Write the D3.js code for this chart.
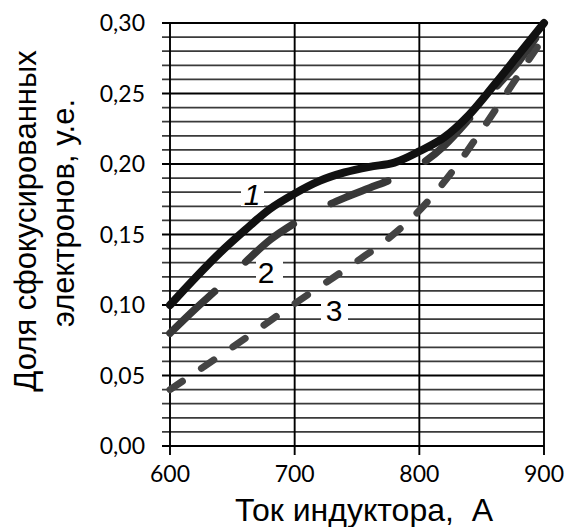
<!DOCTYPE html>
<html><head><meta charset="utf-8">
<script src="https://cdn.jsdelivr.net/npm/d3@7"></script>
<style>html,body{margin:0;padding:0;background:#fff;}svg{display:block;}</style>
</head><body>
<script>
// ---- data ----
const xTicks = [600, 700, 800, 900];
const yTicks = [0, 0.05, 0.10, 0.15, 0.20, 0.25, 0.30];
const yTickLabels = ["0,00", "0,05", "0,10", "0,15", "0,20", "0,25", "0,30"];
const yMinor = [0.01,0.02,0.03,0.04,0.06,0.07,0.08,0.09,0.11,0.12,0.13,0.14,0.16,0.17,0.18,0.19,0.21,0.22,0.23,0.24,0.26,0.27,0.28,0.29];
const curve1X = [600, 620, 640, 660, 680, 700, 720, 740, 760, 780, 800, 820, 840, 860, 880, 900];
const curve1Y = [0.100, 0.119, 0.137, 0.153, 0.168, 0.179, 0.188, 0.194, 0.198, 0.201, 0.209, 0.219, 0.235, 0.256, 0.278, 0.300];
const curve2X = [600, 620, 640, 660, 680, 700, 720, 740, 760, 780, 800, 820, 840, 860, 880, 900];
const curve2Y = [0.080, 0.097, 0.113, 0.130, 0.146, 0.158, 0.168, 0.176, 0.183, 0.190, 0.199, 0.213, 0.232, 0.253, 0.273, 0.298];
const curve3X = [600, 650, 700, 750, 775, 800, 825, 850, 875, 900];
const curve3Y = [0.040, 0.070, 0.101, 0.131, 0.147, 0.167, 0.193, 0.224, 0.257, 0.290];
const curveLabels = ["1", "2", "3"];
const xTitle = "Ток индуктора,\u00a0\u00a0A";
const yTitle1 = "Доля сфокусированных";
const yTitle2 = "электронов, у.е.";

// ---- layout ----
const W = 567, H = 527;
const L = 170, R = 544, T = 23, B = 446;
const svg = d3.select("body").append("svg").attr("width", W).attr("height", H);
const x = d3.scaleLinear().domain([600, 900]).range([L, R]);
const y = d3.scaleLinear().domain([0, 0.30]).range([B, T]);

// minor horizontal grid
svg.append("g").selectAll("line").data(yMinor).join("line")
  .attr("x1", L - 8).attr("x2", R).attr("y1", d => y(d)).attr("y2", d => y(d))
  .attr("stroke", "#3a3a3a").attr("stroke-width", 1.7);
// major horizontal grid
svg.append("g").selectAll("line").data(yTicks).join("line")
  .attr("x1", L - 8).attr("x2", R).attr("y1", d => y(d)).attr("y2", d => y(d))
  .attr("stroke", "#000").attr("stroke-width", 1.8);
// vertical grid
svg.append("g").selectAll("line").data(xTicks).join("line")
  .attr("x1", d => x(d)).attr("x2", d => x(d)).attr("y1", T).attr("y2", B + 9)
  .attr("stroke", "#000").attr("stroke-width", 1.9);

// tick labels
svg.append("g").selectAll("text").data(yTicks).join("text")
  .attr("x", 145).attr("y", d => y(d) + 8)
  .attr("text-anchor", "end").attr("font-family", "Lato, 'Liberation Sans', sans-serif")
  .attr("font-size", 23).attr("fill", "#000")
  .text((d, i) => yTickLabels[i]);
svg.append("g").selectAll("text").data(xTicks).join("text")
  .attr("x", d => x(d)).attr("y", 482)
  .attr("text-anchor", "middle").attr("font-family", "Lato, 'Liberation Sans', sans-serif")
  .attr("font-size", 23).attr("fill", "#000")
  .text(d => d);

// curves
const line = d3.line().x(d => x(d[0])).y(d => y(d[1])).curve(d3.curveMonotoneX);
const c1 = curve1X.map((v, i) => [v, curve1Y[i]]);
const c2 = curve2X.map((v, i) => [v, curve2Y[i]]);
const c3 = curve3X.map((v, i) => [v, curve3Y[i]]);
svg.append("path").attr("d", line(c3)).attr("fill", "none")
  .attr("stroke", "#444").attr("stroke-width", 7).attr("stroke-linecap", "round")
  .attr("stroke-dasharray", "15 23");
svg.append("path").attr("d", line(c2)).attr("fill", "none")
  .attr("stroke", "#383838").attr("stroke-width", 7.5).attr("stroke-linecap", "round")
  .attr("stroke-dasharray", "61 43");
svg.append("path").attr("d", line(c1)).attr("fill", "none")
  .attr("stroke", "#111").attr("stroke-width", 8).attr("stroke-linecap", "round");

// curve labels
const labelPos = [[252, 205, 241, 182, 23, 24, "italic"], [266, 283, 256, 259, 27, 26, "normal"], [334, 321, 321, 297, 27, 26, "normal"]];
curveLabels.forEach((t, i) => {
  const p = labelPos[i];
  svg.append("rect").attr("x", p[2]).attr("y", p[3]).attr("width", p[4]).attr("height", p[5]).attr("fill", "#fff");
  svg.append("text").attr("x", p[0]).attr("y", p[1]).attr("text-anchor", "middle")
    .attr("font-family", "'Liberation Sans', Arial, sans-serif").attr("font-size", 30)
    .attr("font-style", p[6]).attr("fill", "#000").text(t);
});

// axis titles
svg.append("text").attr("x", 235).attr("y", 521).attr("text-anchor", "start")
  .attr("font-family", "'Liberation Sans', Arial, sans-serif").attr("font-size", 32).attr("fill", "#000")
  .text(xTitle);
svg.append("text").attr("transform", "translate(36,221) rotate(-90)").attr("text-anchor", "middle")
  .attr("font-family", "'Liberation Sans', Arial, sans-serif").attr("font-size", 31).attr("fill", "#000")
  .text(yTitle1);
svg.append("text").attr("transform", "translate(74,213) rotate(-90)").attr("text-anchor", "middle")
  .attr("font-family", "'Liberation Sans', Arial, sans-serif").attr("font-size", 31).attr("fill", "#000")
  .text(yTitle2);
</script>
</body></html>
